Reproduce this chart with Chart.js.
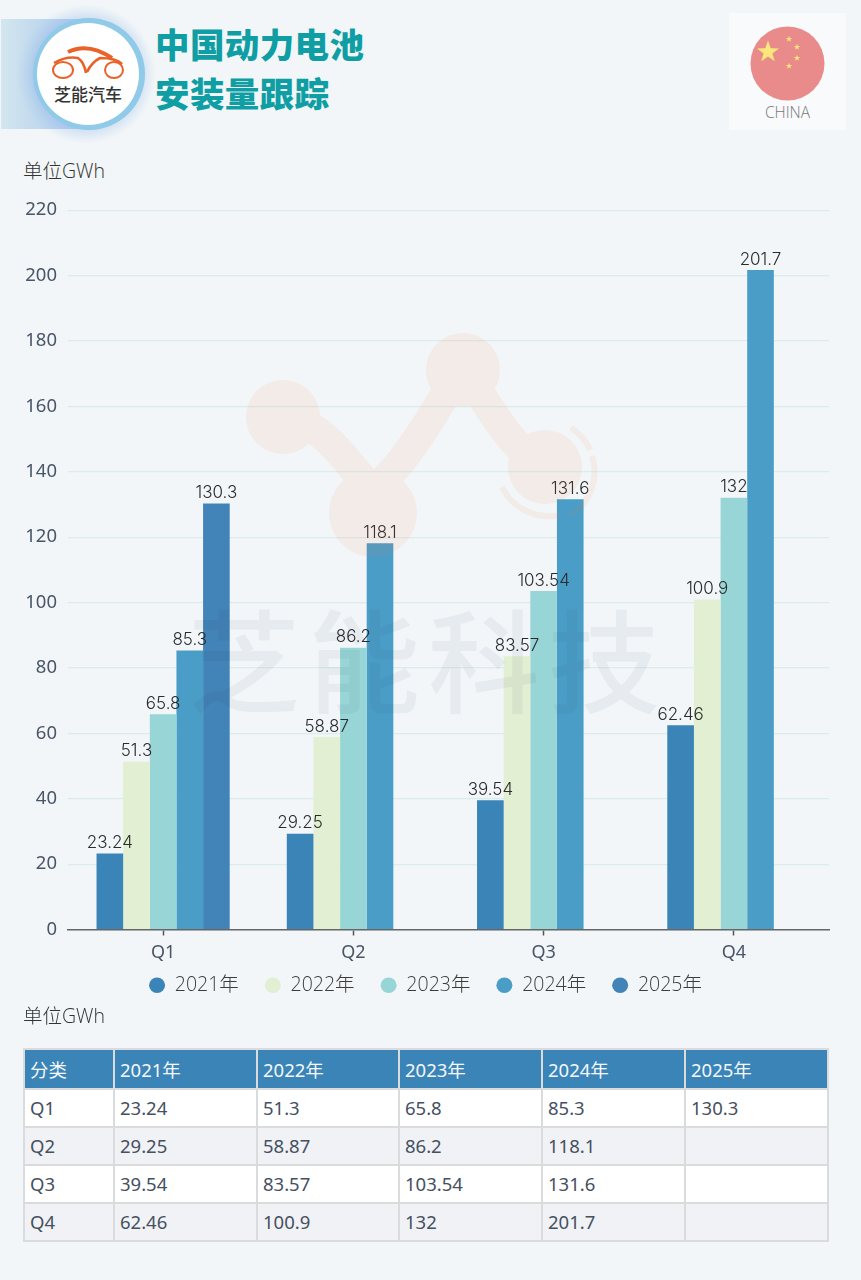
<!DOCTYPE html>
<html lang="zh">
<head>
<meta charset="utf-8">
<title>中国动力电池安装量跟踪</title>
<script src="https://cdn.jsdelivr.net/npm/chart.js@4"></script>
<style>
html, body { margin: 0; padding: 0; }
body { width: 861px; height: 1280px; position: relative; overflow: hidden; background: #f2f6f8;
       font-family: "Noto Sans", "Noto Sans CJK SC", sans-serif; }
#chartBox { position: absolute; left: 0; top: 188px; width: 861px; height: 833px; }
.abs { position: absolute; }
.title { left: 155px; color: #0e9ea4; font: 900 34.5px/40px "Noto Sans CJK SC", sans-serif; letter-spacing: .4px; white-space: nowrap; }
.unit { left: 23px; color: #333; font: 300 19.5px/24px "Open Sans", "Noto Sans CJK SC", sans-serif; }
#dataTable { position: absolute; left: 23px; top: 1048px; width: 804px; height: 194px; border-collapse: collapse; table-layout: fixed;
             font-size: 18.5px; color: #46505f; }
#dataTable th, #dataTable td { border: 2px solid #d9dbdd; padding: 0 0 0 5px; text-align: left; font-weight: 400; }
#dataTable th { background: #3a84b7; color: #f4f8fb; }
#dataTable tr:nth-child(even) td { background: #fff; }
#dataTable tr:nth-child(odd) td { background: #f0f2f6; }
</style>
</head>
<body>

<!-- 页眉背景和标志 -->
<svg class="abs" style="left:0;top:0" width="160" height="150" viewBox="0 0 160 150">
  <defs>
    <linearGradient id="band" x1="0" x2="1" y1="0" y2="0">
      <stop offset="0" stop-color="#d3e6ef"/>
      <stop offset="1" stop-color="#a9c8ec"/>
    </linearGradient>
    <radialGradient id="glow" cx=".5" cy=".5" r=".5">
      <stop offset=".72" stop-color="#8fb4ea" stop-opacity=".5"/>
      <stop offset="1" stop-color="#a9c8ec" stop-opacity="0"/>
    </radialGradient>
  </defs>
  <rect x="1" y="19" width="87" height="110" fill="url(#band)"/>
  <circle cx="86" cy="74" r="70" fill="url(#glow)"/>
  <circle cx="89" cy="74" r="56" fill="#8fcae8"/>
  <circle cx="88" cy="74" r="51" fill="#fff"/>
  <g fill="none" stroke="#e8622a" stroke-width="2">
    <ellipse cx="63" cy="70" rx="10" ry="8"/>
    <ellipse cx="114" cy="70" rx="9" ry="8"/>
    <path d="M54 63 Q66 56 78 58 Q84 62 86 73 M122 64 Q116 58 100 58 Q92 62 87 72" stroke-width="2.6"/>
    <path d="M68 52 Q88 42 112 58" stroke-width="4"/>
  </g>
  <text x="88" y="101" text-anchor="middle" font-family="Noto Sans CJK SC" font-weight="500" font-size="17" fill="#333">芝能汽车</text>
</svg>
<div class="abs title" style="top:23px">中国动力电池</div>
<div class="abs title" style="top:72px">安装量跟踪</div>

<svg class="abs" style="left:729px;top:13px" width="117" height="117" viewBox="0 0 117 117">
  <defs>
    <polygon id="star" points="0,-1 .235,-.324 .951,-.309 .38,.124 .588,.809 0,.4 -.588,.809 -.38,.124 -.951,-.309 -.235,-.324"/>
  </defs>
  <rect width="117" height="117" fill="#f9fafc"/>
  <circle cx="58.500" cy="50.500" r="37" fill="#e98b8b"/>
  <g fill="#fbe77a">
    <use href="#star" transform="translate(39 39) scale(11.500)"/>
    <use href="#star" transform="translate(60 26) scale(3.300)"/>
    <use href="#star" transform="translate(68 34) scale(3.300)"/>
    <use href="#star" transform="translate(68 45) scale(3.300)"/>
    <use href="#star" transform="translate(60 53) scale(3.300)"/>
  </g>
  <text x="58.500" y="105" text-anchor="middle" font-family="Open Sans" font-weight="300" font-size="15.500" fill="#777">CHINA</text>
</svg>

<div class="abs unit" style="top:159px">单位GWh</div>

<div id="chartBox"><canvas id="barChart" width="861" height="833"></canvas></div>

<!-- 水印 -->
<svg class="abs" style="left:0;top:0;pointer-events:none" width="861" height="1000" viewBox="0 0 861 1000">
  <g opacity=".09" fill="#f08a50" stroke="none">
    <circle cx="283" cy="417" r="37"/>
    <circle cx="463" cy="370" r="37"/>
    <circle cx="545" cy="467" r="37"/>
    <circle cx="373" cy="513" r="44"/>
    <path d="M283 417 C330 425 350 470 373 490 C400 470 430 420 445 395 Q463 370 481 395 C500 425 520 455 545 467" fill="none" stroke="#f08a50" stroke-width="30" stroke-linejoin="round"/>
    <path d="M571 428 A48 48 0 0 1 590 450 M592 456 A50 50 0 0 1 570 515 M560 515 A52 52 0 0 1 502 487" fill="none" stroke="#f08a50" stroke-width="6"/>
  </g>
  <text x="188" y="705" font-family="Noto Sans CJK SC" font-weight="500" font-size="112" letter-spacing="8" fill="#1e3c5a" fill-opacity=".055">芝能科技</text>
</svg>

<div class="abs unit" style="top:1004px">单位GWh</div>
<table id="dataTable"></table>

<script>
const categories = ['Q1', 'Q2', 'Q3', 'Q4'];
const years = ['2021年', '2022年', '2023年', '2024年', '2025年'];
const values2021 = [23.24, 29.25, 39.54, 62.46];
const values2022 = [51.3, 58.87, 83.57, 100.9];
const values2023 = [65.8, 86.2, 103.54, 132];
const values2024 = [85.3, 118.1, 131.6, 201.7];
const values2025 = [130.3, null, null, null];
const yearColors = ['#3a84b7', '#e2efd2', '#98d5d6', '#4a9dc7', '#4283b8'];
const tableHead = '分类';

const allValues = [values2021, values2022, values2023, values2024, values2025];

// 柱顶数值标签
const barLabels = {
    id: 'barLabels',
    afterDatasetsDraw(chart) {
        const ctx = chart.ctx;
        ctx.save();
        ctx.font = '300 17px Inter, "Noto Sans", sans-serif';
        ctx.fillStyle = '#2b2b2b';
        ctx.textAlign = 'center';
        ctx.textBaseline = 'bottom';
        chart.data.datasets.forEach((ds, i) => {
            chart.getDatasetMeta(i).data.forEach((bar, j) => {
                if (ds.data[j] === null) return;
                ctx.fillText(String(ds.data[j]), bar.x, bar.y - 2);
            });
        });
        ctx.restore();
    }
};

// 图例上移，贴近坐标轴标签
const legendShift = {
    id: 'legendShift',
    afterLayout(chart) {
        chart.legend.top -= 16;
        chart.legend.left += 11;
        chart.legend.right += 11;
    }
};

new Chart(document.getElementById('barChart'), {
    type: 'bar',
    plugins: [barLabels, legendShift],
    data: {
        labels: categories,
        datasets: years.map((year, i) => ({
            label: year,
            data: allValues[i],
            backgroundColor: yearColors[i],
            categoryPercentage: 0.7,
            barPercentage: 1
        }))
    },
    options: {
        responsive: false,
        animation: false,
        layout: { padding: { top: 7, right: 32 } },
        plugins: {
            tooltip: { enabled: false },
            legend: {
                position: 'bottom',
                labels: {
                    usePointStyle: true,
                    pointStyle: 'circle',
                    pointStyleWidth: 16,
                    boxHeight: 11,
                    padding: 26,
                    color: '#3c3c3c',
                    font: { family: '"Open Sans", "Noto Sans CJK SC", sans-serif', size: 19.5, weight: 300 }
                }
            }
        },
        scales: {
            x: {
                afterFit(scale) { scale.height = 36; },
                grid: { offset: false, drawOnChartArea: false, drawTicks: true, tickLength: 6, tickColor: '#555', tickWidth: 1.5, color: '#666' },
                border: { color: '#666', width: 1.5 },
                ticks: {
                    color: '#4a5568',
                    padding: 7,
                    font: { family: '"Noto Sans", sans-serif', size: 18 }
                }
            },
            y: {
                min: 0,
                max: 220,
                afterFit(scale) { scale.width = 68; },
                grid: { color: '#dcebec', drawTicks: false, lineWidth: 1.2 },
                border: { display: false },
                ticks: {
                    stepSize: 20,
                    color: '#4a5568',
                    padding: 11,
                    font: { family: '"Noto Sans", sans-serif', size: 18.5 }
                }
            }
        }
    }
});

// 下方数据表
const fmt = v => (v === null ? '' : String(v));
const table = document.getElementById('dataTable');
const colWidths = [90, 143, 142, 143, 143, 143];
table.innerHTML =
    '<colgroup>' + colWidths.map(w => `<col style="width:${w}px">`).join('') + '</colgroup>' +
    '<tr>' + [tableHead].concat(years).map(h => `<th>${h}</th>`).join('') + '</tr>' +
    categories.map((c, j) =>
        '<tr><td>' + c + '</td>' + allValues.map(s => `<td>${fmt(s[j])}</td>`).join('') + '</tr>'
    ).join('');
</script>
</body>
</html>
